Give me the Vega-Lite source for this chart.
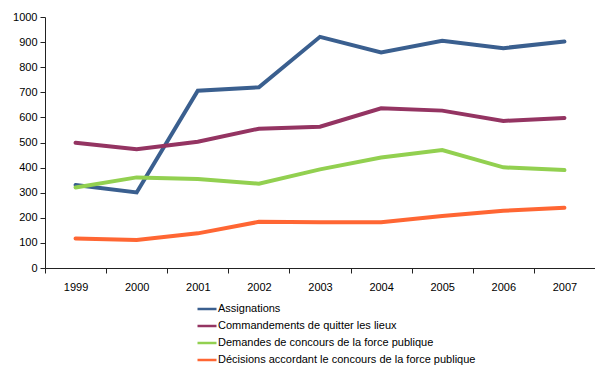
{
  "$schema": "https://vega.github.io/schema/vega-lite/v6.json",
  "width": 550,
  "height": 251,
  "autosize": "none",
  "padding": {"left": 45, "top": 17, "right": 0, "bottom": 99},
  "background": "white",
  "config": {
    "font": "Liberation Sans",
    "view": {"stroke": null},
    "axis": {"labelFont": "Liberation Sans", "labelFontSize": 11, "labelColor": "#000", "domainColor": "#222", "tickColor": "#222", "grid": false, "title": null}
  },
  "data": {
    "values": [
      {"year": "1999", "series": "Assignations", "value": 331},
      {"year": "2000", "series": "Assignations", "value": 301},
      {"year": "2001", "series": "Assignations", "value": 706},
      {"year": "2002", "series": "Assignations", "value": 720},
      {"year": "2003", "series": "Assignations", "value": 921},
      {"year": "2004", "series": "Assignations", "value": 859},
      {"year": "2005", "series": "Assignations", "value": 905},
      {"year": "2006", "series": "Assignations", "value": 876},
      {"year": "2007", "series": "Assignations", "value": 902},
      {"year": "1999", "series": "Commandements de quitter les lieux", "value": 499},
      {"year": "2000", "series": "Commandements de quitter les lieux", "value": 473},
      {"year": "2001", "series": "Commandements de quitter les lieux", "value": 503},
      {"year": "2002", "series": "Commandements de quitter les lieux", "value": 555},
      {"year": "2003", "series": "Commandements de quitter les lieux", "value": 563},
      {"year": "2004", "series": "Commandements de quitter les lieux", "value": 636},
      {"year": "2005", "series": "Commandements de quitter les lieux", "value": 627},
      {"year": "2006", "series": "Commandements de quitter les lieux", "value": 586},
      {"year": "2007", "series": "Commandements de quitter les lieux", "value": 598},
      {"year": "1999", "series": "Demandes de concours de la force publique", "value": 321},
      {"year": "2000", "series": "Demandes de concours de la force publique", "value": 361},
      {"year": "2001", "series": "Demandes de concours de la force publique", "value": 355},
      {"year": "2002", "series": "Demandes de concours de la force publique", "value": 336},
      {"year": "2003", "series": "Demandes de concours de la force publique", "value": 393},
      {"year": "2004", "series": "Demandes de concours de la force publique", "value": 440},
      {"year": "2005", "series": "Demandes de concours de la force publique", "value": 470},
      {"year": "2006", "series": "Demandes de concours de la force publique", "value": 401},
      {"year": "2007", "series": "Demandes de concours de la force publique", "value": 390},
      {"year": "1999", "series": "Décisions accordant le concours de la force publique", "value": 118},
      {"year": "2000", "series": "Décisions accordant le concours de la force publique", "value": 112},
      {"year": "2001", "series": "Décisions accordant le concours de la force publique", "value": 138},
      {"year": "2002", "series": "Décisions accordant le concours de la force publique", "value": 184},
      {"year": "2003", "series": "Décisions accordant le concours de la force publique", "value": 182},
      {"year": "2004", "series": "Décisions accordant le concours de la force publique", "value": 182},
      {"year": "2005", "series": "Décisions accordant le concours de la force publique", "value": 207},
      {"year": "2006", "series": "Décisions accordant le concours de la force publique", "value": 228},
      {"year": "2007", "series": "Décisions accordant le concours de la force publique", "value": 240}
    ]
  },
  "mark": {"type": "line", "strokeWidth": 4, "strokeJoin": "miter", "strokeCap": "round"},
  "encoding": {
    "x": {
      "field": "year", "type": "ordinal",
      "scale": {"type": "band", "paddingInner": 0, "paddingOuter": 0},
      "bandPosition": 0.5,
      "axis": {"labelAngle": 0, "tickBand": "extent", "tickSize": 5, "labelPadding": 8}
    },
    "y": {
      "field": "value", "type": "quantitative",
      "scale": {"domain": [0, 1000], "nice": false},
      "axis": {"values": [0,100,200,300,400,500,600,700,800,900,1000], "format": "d", "tickSize": 5, "labelPadding": 3}
    },
    "color": {
      "field": "series", "type": "nominal",
      "scale": {
        "domain": ["Assignations", "Commandements de quitter les lieux", "Demandes de concours de la force publique", "Décisions accordant le concours de la force publique"],
        "range": ["#3A5F8F", "#943462", "#92D050", "#FF6633"]
      },
      "legend": {
        "title": null, "orient": "none", "legendX": 151, "legendY": 281,
        "symbolType": "stroke", "symbolSize": 361, "symbolStrokeWidth": 2.5,
        "labelFontSize": 11, "labelColor": "#000", "labelOffset": 0, "rowPadding": 1, "labelLimit": 0
      }
    }
  }
}
